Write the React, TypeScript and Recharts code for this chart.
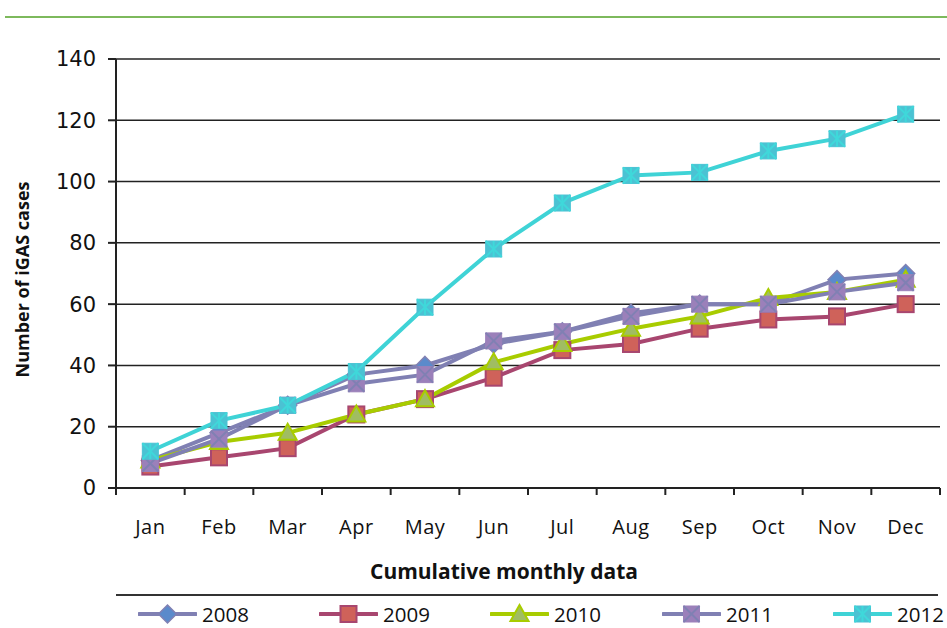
import React from 'react';
import { LineChart, Line, XAxis, YAxis, CartesianGrid } from 'recharts';

// monthly cumulative iGAS counts
const months = ['Jan', 'Feb', 'Mar', 'Apr', 'May', 'Jun', 'Jul', 'Aug', 'Sep', 'Oct', 'Nov', 'Dec'];
const cases2008 = [9, 18, 27, 37, 40, 47, 51, 57, 60, 60, 68, 70];
const cases2009 = [7, 10, 13, 24, 29, 36, 45, 47, 52, 55, 56, 60];
const cases2010 = [9, 15, 18, 24, 29, 41, 47, 52, 56, 62, 64, 68];
const cases2011 = [8, 16, 27, 34, 37, 48, 51, 56, 60, 60, 64, 67];
const cases2012 = [12, 22, 27, 38, 59, 78, 93, 102, 103, 110, 114, 122];
const yTicks = [0, 20, 40, 60, 80, 100, 120, 140];

const data = months.map((m, i) => ({
  x: i + 0.5,
  month: m,
  y2008: cases2008[i],
  y2009: cases2009[i],
  y2010: cases2010[i],
  y2011: cases2011[i],
  y2012: cases2012[i],
}));

const xTicks: number[] = [];
for (let i = 0; i <= 24; i++) xTicks.push(i / 2);

const LABEL_FONT = '"Open Sans", Lato, sans-serif';

type Shape = 'diamond' | 'square' | 'triangle' | 'xsquare' | 'star';

const series: { key: string; name: string; color: string; shape: Shape; fill: string; edge: string }[] = [
  { key: 'y2008', name: '2008', color: '#8080B3', shape: 'diamond', fill: '#5B8ACB', edge: '#8080B3' },
  { key: 'y2009', name: '2009', color: '#A8466F', shape: 'square', fill: '#CF625A', edge: '#A8466F' },
  { key: 'y2010', name: '2010', color: '#A8CC00', shape: 'triangle', fill: '#A0BD62', edge: '#A8CC00' },
  { key: 'y2011', name: '2011', color: '#8080B3', shape: 'xsquare', fill: '#9B80BA', edge: '#8080B3' },
  { key: 'y2012', name: '2012', color: '#3FD3D6', shape: 'star', fill: '#4BC2D3', edge: '#3FD8DA' },
];

// left edge of each legend entry
const legendLeft = [138, 319, 490, 662, 833];

function Marker({ cx, cy, shape, fill, edge }: { cx: number; cy: number; shape: Shape; fill: string; edge: string }) {
  const s = 8;
  if (shape === 'diamond') {
    return (
      <polygon
        points={`${cx},${cy - s - 1} ${cx + s + 1},${cy} ${cx},${cy + s + 1} ${cx - s - 1},${cy}`}
        fill={fill}
        stroke={edge}
        strokeWidth={1.5}
      />
    );
  }
  if (shape === 'square') {
    return <rect x={cx - s} y={cy - s} width={s * 2} height={s * 2} fill={fill} stroke={edge} strokeWidth={2} />;
  }
  if (shape === 'triangle') {
    return (
      <polygon
        points={`${cx},${cy - s - 1} ${cx + s + 1},${cy + s - 1} ${cx - s - 1},${cy + s - 1}`}
        fill={fill}
        stroke={edge}
        strokeWidth={2}
      />
    );
  }
  if (shape === 'xsquare') {
    return (
      <g>
        <rect x={cx - s} y={cy - s} width={s * 2} height={s * 2} fill={fill} stroke={fill} strokeWidth={1} />
        <line x1={cx - s} y1={cy - s} x2={cx + s} y2={cy + s} stroke={edge} strokeWidth={2} />
        <line x1={cx - s} y1={cy + s} x2={cx + s} y2={cy - s} stroke={edge} strokeWidth={2} />
      </g>
    );
  }
  return (
    <g>
      <rect x={cx - s} y={cy - s} width={s * 2} height={s * 2} fill={fill} stroke={fill} strokeWidth={1} />
      <line x1={cx - s} y1={cy - s} x2={cx + s} y2={cy + s} stroke={edge} strokeWidth={2} />
      <line x1={cx - s} y1={cy + s} x2={cx + s} y2={cy - s} stroke={edge} strokeWidth={2} />
      <line x1={cx} y1={cy - s} x2={cx} y2={cy + s} stroke={edge} strokeWidth={2} />
    </g>
  );
}

const XTick = (props: any) => {
  const { x, y, payload } = props;
  const v = payload.value as number;
  if (Number.isInteger(v)) {
    return <line x1={x} x2={x} y1={y} y2={y + 7} stroke="#222" strokeWidth={2} />;
  }
  return (
    <text
      x={x}
      y={y + 38}
      textAnchor="middle"
      dominantBaseline="central"
      fontFamily={LABEL_FONT}
      fontSize={20}
      letterSpacing={0.5}
      fill="#111"
    >
      {months[Math.floor(v)]}
    </text>
  );
};

const YTitle = (props: any) => {
  const vb = props.viewBox;
  const cx = vb.x + 22;
  const cy = vb.y + vb.height / 2 + 6;
  return (
    <text
      x={cx}
      y={cy}
      transform={`rotate(-90 ${cx} ${cy})`}
      textAnchor="middle"
      dominantBaseline="central"
      fontFamily={LABEL_FONT}
      fontWeight="bold"
      fontSize={18}
      fill="#111"
    >
      Number of iGAS cases
    </text>
  );
};

const XTitle = (props: any) => {
  const vb = props.viewBox;
  return (
    <text
      x={vb.x + vb.width / 2 - 24}
      y={vb.y + 83}
      textAnchor="middle"
      dominantBaseline="central"
      fontFamily={LABEL_FONT}
      fontWeight="bold"
      fontSize={21}
      fill="#111"
    >
      Cumulative monthly data
    </text>
  );
};

const App: React.FC = () => {
  return (
    <div style={{ position: 'absolute', left: 0, top: 0, width: 947, height: 628, background: '#fff' }}>
      <div style={{ position: 'absolute', left: 5, top: 16, width: 942, height: 2, background: '#7DB95C' }} />
      <LineChart width={947} height={628} data={data} margin={{ top: 59, right: 7, left: 0, bottom: 0 }}>
        <CartesianGrid vertical={false} stroke="#222" strokeWidth={1.5} />
        <XAxis
          dataKey="x"
          type="number"
          domain={[0, 12]}
          ticks={xTicks}
          interval={0}
          height={140}
          tickLine={false}
          tickSize={0}
          tickMargin={0}
          axisLine={{ stroke: '#222', strokeWidth: 2 }}
          tick={<XTick />}
          label={XTitle}
        />
        <YAxis
          type="number"
          domain={[0, 140]}
          ticks={yTicks}
          interval={0}
          width={116}
          tickSize={8}
          tickMargin={12}
          tickLine={{ stroke: '#222', strokeWidth: 2 }}
          axisLine={{ stroke: '#222', strokeWidth: 2 }}
          tick={{ fontFamily: '"DejaVu Sans", sans-serif', fontSize: 21, fill: '#111' }}
          label={YTitle}
        />
        {series.map((s) => (
          <Line
            key={s.key}
            dataKey={s.key}
            name={s.name}
            type="linear"
            stroke={s.color}
            strokeWidth={4}
            isAnimationActive={false}
            dot={(p: any) => (
              <Marker key={`${s.key}-${p.index}`} cx={p.cx} cy={p.cy} shape={s.shape} fill={s.fill} edge={s.edge} />
            )}
            activeDot={false}
          />
        ))}
      </LineChart>
      <div style={{ position: 'absolute', left: 116, top: 594, width: 822, height: 2, background: '#333' }} />
      {series.map((s, i) => (
        <div
          key={s.key}
          style={{
            position: 'absolute',
            left: legendLeft[i],
            top: 602,
            height: 24,
            display: 'flex',
            alignItems: 'center',
            gap: 5,
          }}
        >
          <svg width={59} height={24}>
            <line x1={1} y1={12} x2={58} y2={12} stroke={s.color} strokeWidth={4} strokeLinecap="round" />
            <Marker cx={29.5} cy={12} shape={s.shape} fill={s.fill} edge={s.edge} />
          </svg>
          <span style={{ fontFamily: LABEL_FONT, fontSize: 20.5, color: '#111', lineHeight: '24px' }}>{s.name}</span>
        </div>
      ))}
    </div>
  );
};

export default App;
